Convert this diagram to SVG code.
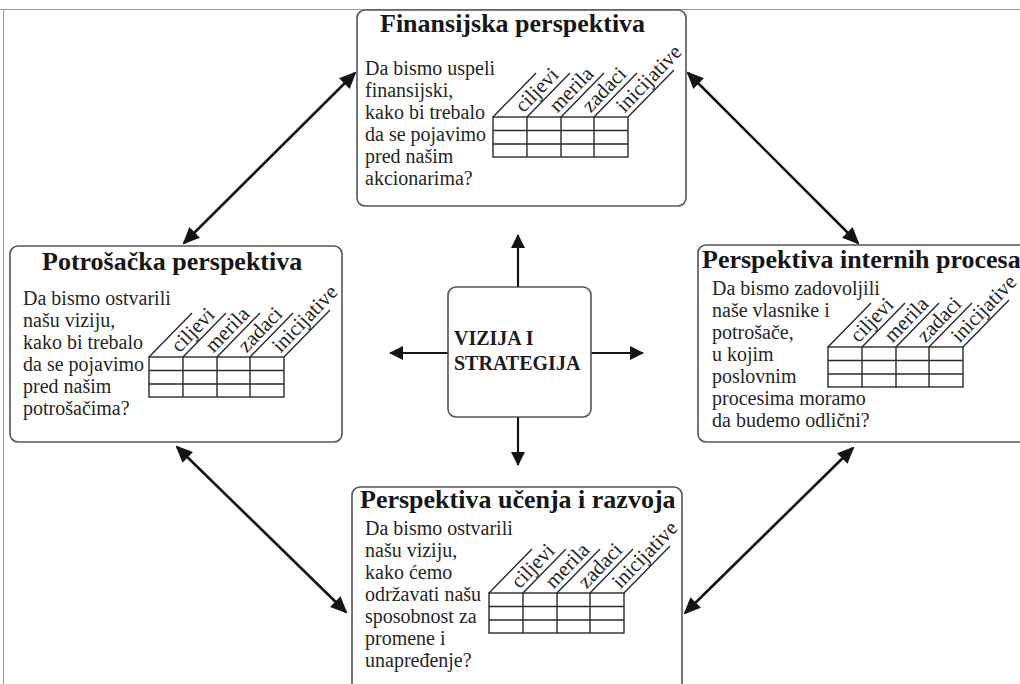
<svg xmlns="http://www.w3.org/2000/svg" xmlns:xlink="http://www.w3.org/1999/xlink" width="1020" height="684" viewBox="0 0 1020 684">
  <style>
    .frame { stroke: #9a9a9a; stroke-width: 1; fill: none; }
    .box { fill: #ffffff; stroke: #555555; stroke-width: 1.6; }
    .title { font-family: "Liberation Serif", "Times New Roman", serif; font-weight: bold; font-size: 26px; fill: #161616; }
    .body { font-family: "Liberation Serif", "Times New Roman", serif; font-size: 20px; fill: #262626; }
    .center { font-family: "Liberation Serif", "Times New Roman", serif; font-weight: bold; font-size: 20px; fill: #1c1c1c; }
    .grid { fill: none; stroke: #2a2a2a; stroke-width: 1.4; }
    .hdr { font-family: "Liberation Serif", "Times New Roman", serif; font-size: 21px; fill: #262626; }
    .link { stroke: #141414; stroke-width: 2.6; fill: none; }
    .ray { stroke: #141414; stroke-width: 2.2; fill: none; }
  </style>
  <defs>
    <marker id="head" viewBox="0 0 17 15" refX="15" refY="7.5" markerWidth="17" markerHeight="15" markerUnits="userSpaceOnUse" orient="auto-start-reverse">
      <path d="M0,0 L17,7.5 L0,15 z" fill="#141414"/>
    </marker>
    <marker id="headSmall" viewBox="0 0 14 14" refX="13" refY="7" markerWidth="14" markerHeight="14" markerUnits="userSpaceOnUse" orient="auto">
      <path d="M0,0 L14,7 L0,14 z" fill="#141414"/>
    </marker>
    <!-- measures table with slanted column headers; origin = top-left of the grid -->
    <g id="measures">
      <rect class="grid" x="0" y="0" width="135" height="40"/>
      <path class="grid" d="M0,13.5 H135 M0,27 H135 M34,0 V40 M68,0 V40 M101,0 V40"/>
      <path class="grid" d="M0,0 l43,-44 M34,0 l43,-44 M68,0 l43,-44 M101,0 l43,-44 M135,0 l46,-47"/>
      <text class="hdr" transform="translate(34,0) rotate(-46)" x="0" y="-5">ciljevi</text>
      <text class="hdr" transform="translate(68,0) rotate(-46)" x="0" y="-5">merila</text>
      <text class="hdr" transform="translate(101,0) rotate(-46)" x="0" y="-5">zadaci</text>
      <text class="hdr" transform="translate(135,0) rotate(-46)" x="0" y="-5">inicijative</text>
    </g>
  </defs>

  <rect width="1020" height="684" fill="#ffffff"/>
  <path class="frame" d="M0,9.5 H1020 M3.5,9.5 V684"/>

  <!-- connectors -->
  <g id="connectors">
    <line class="link" x1="184" y1="243" x2="355" y2="73" marker-start="url(#head)" marker-end="url(#head)"/>
    <line class="link" x1="688" y1="73" x2="858" y2="243" marker-start="url(#head)" marker-end="url(#head)"/>
    <line class="link" x1="177" y1="447" x2="346" y2="612" marker-start="url(#head)" marker-end="url(#head)"/>
    <line class="link" x1="853" y1="448" x2="685" y2="613" marker-start="url(#head)" marker-end="url(#head)"/>
    <line class="ray" x1="518" y1="287" x2="518" y2="235" marker-end="url(#headSmall)"/>
    <line class="ray" x1="518" y1="417" x2="518" y2="465" marker-end="url(#headSmall)"/>
    <line class="ray" x1="448" y1="353" x2="390" y2="353" marker-end="url(#headSmall)"/>
    <line class="ray" x1="591" y1="353" x2="643" y2="353" marker-end="url(#headSmall)"/>
  </g>

  <!-- financial perspective -->
  <g id="node-financial">
    <rect class="box" x="357" y="10" width="329" height="196" rx="8"/>
    <text class="title" x="380" y="32">Finansijska perspektiva</text>
    <text class="body" x="365">
      <tspan x="365" y="75">Da bismo uspeli</tspan>
      <tspan x="365" y="97">finansijski,</tspan>
      <tspan x="365" y="119">kako bi trebalo</tspan>
      <tspan x="365" y="141">da se pojavimo</tspan>
      <tspan x="365" y="163">pred našim</tspan>
      <tspan x="365" y="185">akcionarima?</tspan>
    </text>
    <use xlink:href="#measures" href="#measures" x="493" y="117"/>
  </g>

  <!-- customer perspective -->
  <g id="node-customer">
    <rect class="box" x="10" y="246" width="332" height="196" rx="8"/>
    <text class="title" x="42" y="270">Potrošačka perspektiva</text>
    <text class="body">
      <tspan x="23" y="305">Da bismo ostvarili</tspan>
      <tspan x="23" y="327">našu viziju,</tspan>
      <tspan x="23" y="349">kako bi trebalo</tspan>
      <tspan x="23" y="371">da se pojavimo</tspan>
      <tspan x="23" y="393">pred našim</tspan>
      <tspan x="23" y="415">potrošačima?</tspan>
    </text>
    <use xlink:href="#measures" href="#measures" x="149" y="357"/>
  </g>

  <!-- internal process perspective -->
  <g id="node-internal">
    <rect class="box" x="698" y="245" width="340" height="197" rx="8"/>
    <text class="title" x="702" y="268">Perspektiva internih procesa</text>
    <text class="body">
      <tspan x="712" y="295">Da bismo zadovoljili</tspan>
      <tspan x="712" y="317">naše vlasnike i</tspan>
      <tspan x="712" y="339">potrošače,</tspan>
      <tspan x="712" y="361">u kojim</tspan>
      <tspan x="712" y="383">poslovnim</tspan>
      <tspan x="712" y="405">procesima moramo</tspan>
      <tspan x="712" y="427">da budemo odlični?</tspan>
    </text>
    <use xlink:href="#measures" href="#measures" x="828" y="347"/>
  </g>

  <!-- learning and growth perspective -->
  <g id="node-learning">
    <rect class="box" x="352" y="487" width="330" height="215" rx="8"/>
    <text class="title" x="360" y="508">Perspektiva učenja i razvoja</text>
    <text class="body">
      <tspan x="365" y="535">Da bismo ostvarili</tspan>
      <tspan x="365" y="557">našu viziju,</tspan>
      <tspan x="365" y="579">kako ćemo</tspan>
      <tspan x="365" y="601">održavati našu</tspan>
      <tspan x="365" y="623">sposobnost za</tspan>
      <tspan x="365" y="645">promene i</tspan>
      <tspan x="365" y="667">unapređenje?</tspan>
    </text>
    <use xlink:href="#measures" href="#measures" x="489" y="593"/>
  </g>

  <!-- vision and strategy -->
  <g id="node-vision">
    <rect class="box" x="448" y="287" width="143" height="130" rx="8"/>
    <text class="center" x="454" y="345">VIZIJA I</text>
    <text class="center" x="454" y="370">STRATEGIJA</text>
  </g>
</svg>
